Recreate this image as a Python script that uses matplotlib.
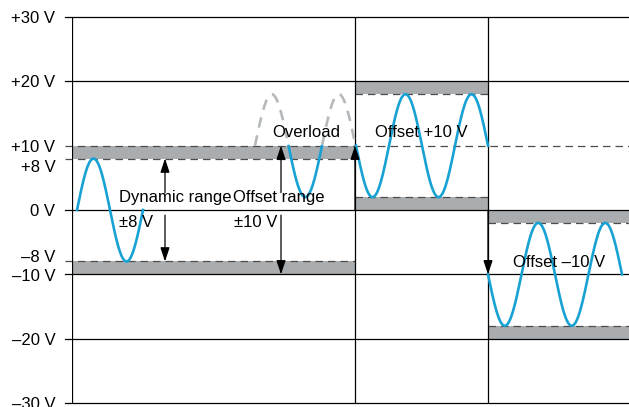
import numpy as np
import matplotlib
matplotlib.use("Agg")
import matplotlib.pyplot as plt
from matplotlib.transforms import offset_copy

plt.rcParams['font.family'] = ['Liberation Sans', 'DejaVu Sans']

# y-axis ticks
tick_vals = [30, 20, 10, 8, 0, -8, -10, -20, -30]
tick_labels = ["+30 V", "+20 V", "+10 V", "+8 V", "0 V", "\u20138 V", "\u201310 V", "\u201320 V", "\u201330 V"]
tick_nudge = [0, 0, 0, -7, 0, 5, -1, 0, 0]   # pixel nudge so the close labels do not overlap

# x extent and the three zones
x_max = 557
zone_edges = [0, 283, 416, x_max]

# solid and dashed reference levels
solid_levels = [30, 20, 0, -10, -20, -30]
dashed_full = [10]
# (level, x0, x1)
dashed_zone = [(8, 0, 283), (-8, 0, 283), (18, 283, 416), (2, 283, 416),
               (-2, 416, x_max), (-18, 416, x_max)]

# grey bands: (x0, x1, low, high)
bands = [(0, 283, 8, 10), (0, 283, -10, -8),
         (283, 416, 18, 20), (283, 416, 0, 2),
         (416, x_max, -2, 0), (416, x_max, -20, -18)]

# sine segments: (x start, x end, offset, amplitude, period, sign)
sines = [(5, 71, 0, 8, 66, 1),
         (284, 416, 10, 8, 66, -1),
         (416, 550, -10, 8, 67, -1)]
overload = (183, 283, 10, 8, 67, 1)
overload_limit = 10

# arrows: (x, y from, y to)
arrows = [(93, 2.7, 8), (93, -0.8, -8),
          (209, 2.7, 10), (209, -0.8, -10),
          (283, 0, 10), (416, 0, -10)]

# labels: (x, y, text)
labels = [(47, 2.0, "Dynamic range"), (47, -2.0, "\u00b18 V"),
          (161, 2.0, "Offset range"), (162, -2.0, "\u00b110 V"),
          (200, 12.1, "Overload"), (303, 12.1, "Offset +10 V"),
          (441, -8.1, "Offset \u201310 V")]

blue = "#17a2d3"
band_grey = "#a9adb0"
dash_grey = "#4d4d4d"
over_grey = "#b5b9bc"

fig = plt.figure(figsize=(6.29, 4.07), dpi=100)
ax = fig.add_axes([72 / 629, 1 - 403 / 407, 557 / 629, 386 / 407])
ax.set_xlim(0, x_max)
ax.set_ylim(-30, 30)
for s in ax.spines.values():
    s.set_visible(False)
ax.set_xticks([])

ax.set_yticks(tick_vals)
ax.set_yticklabels(tick_labels, fontsize=12)
ax.tick_params(axis='y', length=0, pad=12)
for lab, dy in zip(ax.get_yticklabels(), tick_nudge):
    lab.set_transform(offset_copy(lab.get_transform(), fig=fig, x=0, y=dy, units='dots'))

for x0, x1, lo, hi in bands:
    ax.fill_between([x0, x1], lo, hi, color=band_grey, lw=0, zorder=1)

for lv in solid_levels:
    ax.plot([-7, x_max], [lv, lv], color="black", lw=0.9, clip_on=False, zorder=2)
for lv in dashed_full:
    ax.plot([-7, x_max], [lv, lv], color=dash_grey, lw=0.9, ls=(0, (6, 4)), clip_on=False, zorder=2)
for lv, x0, x1 in dashed_zone:
    xs = -7 if x0 == 0 else x0
    ax.plot([xs, x1], [lv, lv], color=dash_grey, lw=0.9, ls=(0, (6, 4)), clip_on=False, zorder=2)

for xe in zone_edges[:-1]:
    ax.plot([xe, xe], [-30, 30], color="black", lw=0.9, zorder=2)

for x0, x1, off, amp, per, sgn in sines:
    x = np.linspace(x0, x1, 300)
    ax.plot(x, off + sgn * amp * np.sin(2 * np.pi * (x - x0) / per), color=blue, lw=1.9, zorder=3)

x0, x1, off, amp, per, sgn = overload
x = np.linspace(x0, x1, 400)
y = off + sgn * amp * np.sin(2 * np.pi * (x - x0) / per)
ax.plot(x, np.where(y <= overload_limit, y, np.nan), color=blue, lw=1.9, zorder=3)
ax.plot(x, np.where(y >= overload_limit, y, np.nan), color=over_grey, lw=1.9, ls=(0, (4, 3)), zorder=3)

for xa, ya, yb in arrows:
    ax.annotate("", xy=(xa, yb), xytext=(xa, ya),
                arrowprops=dict(arrowstyle="-|>,head_length=0.6,head_width=0.2", color="black",
                                lw=0.9, mutation_scale=14, shrinkA=0, shrinkB=0), zorder=4)

for xt, yt, txt in labels:
    ax.text(xt, yt, txt, fontsize=12, ha='left', va='center', zorder=5)

fig.savefig("out.png", dpi=100)
